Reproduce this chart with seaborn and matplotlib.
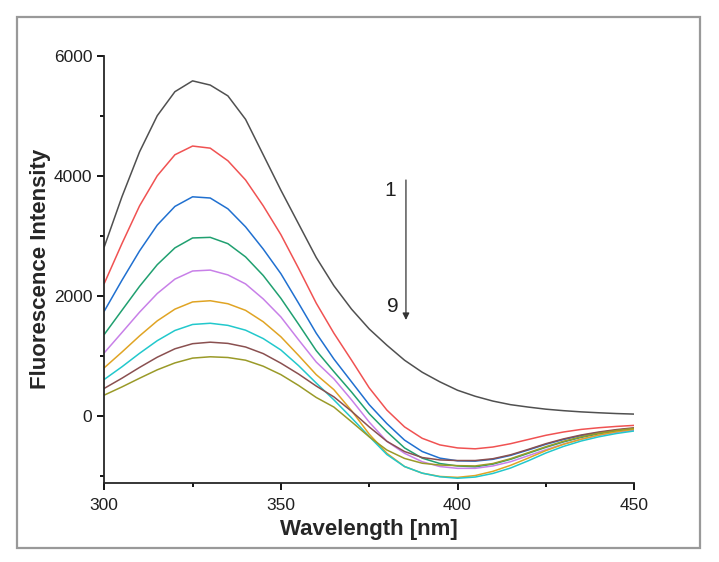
# Fluorescence spectra, curves 1-9
import pandas as pd
import seaborn as sns
import matplotlib.pyplot as plt
from matplotlib.patches import Rectangle
from matplotlib.ticker import MultipleLocator

wavelength = list(range(300, 451, 5))

curve1 = [2817, 3650, 4400, 5000, 5400, 5580, 5510, 5330, 4940, 4350, 3760, 3200, 2640, 2170, 1780, 1450,
          1180, 930, 730, 570, 430, 330, 250, 190, 150, 115, 90, 70, 55, 42, 33]
curve2 = [2207, 2870, 3500, 4000, 4350, 4495, 4460, 4250, 3930, 3500, 3020, 2460, 1880, 1380, 930, 470,
          100, -180, -370, -480, -530, -545, -515, -460, -390, -320, -265, -222, -194, -172, -155]
curve3 = [1747, 2260, 2750, 3180, 3490, 3650, 3630, 3450, 3150, 2780, 2370, 1880, 1380, 950, 570, 190,
          -125, -400, -590, -700, -745, -750, -720, -655, -565, -470, -390, -325, -275, -235, -205]
curve4 = [1359, 1760, 2160, 2520, 2800, 2965, 2975, 2870, 2650, 2340, 1960, 1530, 1090, 740, 400, 40,
          -260, -530, -700, -790, -830, -845, -800, -720, -620, -520, -430, -355, -295, -250, -215]
curve5 = [1053, 1390, 1730, 2040, 2280, 2415, 2430, 2350, 2200, 1950, 1650, 1270, 900, 620, 270, -100,
          -420, -620, -760, -840, -870, -870, -830, -760, -660, -560, -465, -385, -320, -270, -235]
curve6 = [804, 1065, 1335, 1585, 1780, 1900, 1920, 1870, 1760, 1570, 1320, 1010, 690, 440, 90, -300,
          -620, -840, -950, -1005, -1020, -990, -920, -820, -700, -575, -470, -385, -315, -260, -220]
curve7 = [610, 820, 1045, 1255, 1425, 1525, 1545, 1510, 1430, 1290, 1100, 840, 550, 270, -30, -340,
          -640, -840, -950, -1010, -1035, -1015, -955, -865, -745, -615, -505, -415, -345, -290, -248]
curve8 = [461, 630, 810, 980, 1120, 1205, 1230, 1210, 1150, 1040, 880, 700, 500, 320, 80, -180,
          -420, -590, -690, -730, -740, -740, -710, -645, -555, -460, -380, -315, -265, -225, -195]
curve9 = [349, 485, 630, 770, 885, 965, 987, 975, 930, 830, 690, 510, 310, 150, -95, -345,
          -565, -705, -785, -815, -825, -830, -790, -710, -610, -510, -420, -345, -285, -240, -205]

curves = [curve1, curve2, curve3, curve4, curve5, curve6, curve7, curve8, curve9]
names = [str(i) for i in range(1, 10)]
colors = ['#505050', '#f05252', '#2070d0', '#20a070', '#c880e8',
          '#e0a424', '#22c8cc', '#8a5050', '#9a9a28']

df = pd.concat([pd.DataFrame({'wl': wavelength, 'fi': c, 'curve': n})
                for c, n in zip(curves, names)], ignore_index=True)

sns.set_style("ticks")
plt.rcParams['font.family'] = ['Liberation Sans', 'DejaVu Sans']

fig = plt.figure(figsize=(7.19, 5.62), dpi=100)
ax = fig.add_axes([0.145, 0.141, 0.737, 0.760])

sns.lineplot(data=df, x='wl', y='fi', hue='curve', palette=colors,
             linewidth=1.1, legend=False, ax=ax)

ax.set_xlim(300, 450)
ax.set_ylim(-1110, 6000)
ax.xaxis.set_major_locator(MultipleLocator(50))
ax.xaxis.set_minor_locator(MultipleLocator(25))
ax.yaxis.set_major_locator(MultipleLocator(2000))
ax.yaxis.set_minor_locator(MultipleLocator(1000))

ax.set_xlabel("Wavelength [nm]", fontsize=16, weight='bold', labelpad=4)
ax.set_ylabel("Fluorescence Intensity", fontsize=16, weight='bold', labelpad=2)
ax.tick_params(axis='both', which='major', labelsize=12.5, length=5, width=1.3,
               color='black', labelcolor='#202020')
ax.tick_params(axis='x', which='major', pad=6)
ax.tick_params(axis='both', which='minor', length=3, width=1.3, color='black')

ax.spines["top"].set_visible(False)
ax.spines["right"].set_visible(False)
ax.spines["left"].set_linewidth(1.3)
ax.spines["bottom"].set_linewidth(1.3)

# arrow 1 -> 9
ax.annotate('', xy=(385.4, 1600), xytext=(385.4, 3930),
            arrowprops=dict(arrowstyle='-|>', color='#333333', lw=0.9,
                            mutation_scale=10, shrinkA=0, shrinkB=0))
ax.text(381, 3750, '1', fontsize=15, ha='center', va='center', color='#202020')
ax.text(381.6, 1830, '9', fontsize=15, ha='center', va='center', color='#202020')

# grey frame around the figure
fig.patches.append(Rectangle((17 / 719, 1 - 548 / 562), 683 / 719, 531 / 562,
                             transform=fig.transFigure, fill=False,
                             edgecolor='#999999', linewidth=1.6))

fig.savefig('out.png', dpi=100)
